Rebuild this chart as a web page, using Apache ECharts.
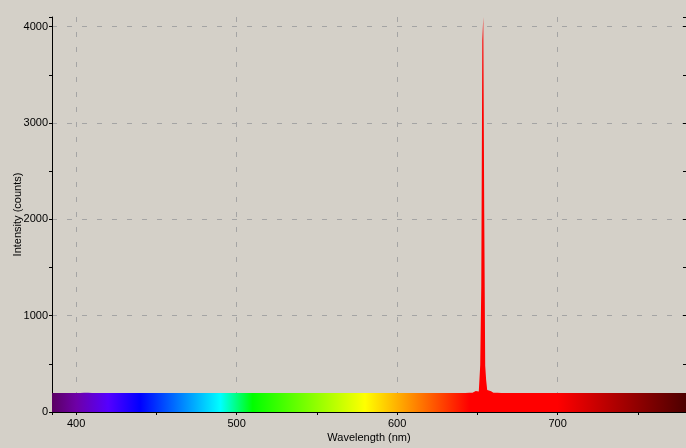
<!DOCTYPE html>
<html>
<head>
<meta charset="utf-8">
<script src="https://cdn.jsdelivr.net/npm/echarts@6/dist/echarts.min.js"></script>
<style>
  html, body { margin: 0; padding: 0; background: #d4d0c8; }
  #main { width: 686px; height: 448px; }
</style>
</head>
<body>
<div id="main"></div>
<script>
// wavelength (nm) of each sample
var wavelengths = [
  385, 390, 395, 400, 405, 410, 415, 420, 425, 430, 435, 440, 445, 450, 455, 460,
  465, 470, 475, 480, 485, 490, 495, 500, 505, 510, 515, 520, 525, 530, 535, 540,
  545, 550, 555, 560, 565, 570, 575, 580, 585, 590, 595, 600, 605, 610, 615, 620,
  625, 630, 635, 640, 645,
  649.0, 650.9, 651.5, 652.1, 652.8, 653.4, 654.0, 654.6, 655.2, 655.8, 656.5, 657.1,
  660, 665, 670, 675, 680, 685, 690, 695, 700, 705, 710, 715, 720, 725, 730, 735,
  740, 745, 750, 755, 760, 765, 770, 775, 780
];
// intensity (counts)
var counts = [
  197, 198, 196, 197, 199, 197, 196, 198, 197, 196, 198, 197, 197, 196, 198, 197,
  196, 197, 198, 197, 196, 197, 198, 196, 197, 198, 197, 196, 197, 198, 197, 196,
  197, 198, 197, 196, 197, 198, 196, 197, 198, 197, 196, 197, 198, 197, 196, 198,
  197, 196, 198, 197, 199,
  218, 212, 228, 487, 1306, 3855, 4100, 2062, 480, 330, 228, 215,
  201, 198, 197, 196, 198, 197, 196, 197, 198, 197, 196, 198, 197, 196, 197, 198,
  197, 196, 197, 198, 196, 197, 198, 197, 197
];
var xTicks = [400, 500, 600, 700];
var yTicks = [0, 1000, 2000, 3000, 4000];

var xMin = 385, xMax = 780, yMax = 4100;

// spectrum colours along the wavelength axis
var spectrumStops = [
  [385, '#5a0063'], [400, '#6e00a6'], [420, '#5500ff'], [440, '#0000ff'],
  [490, '#00ffff'], [510, '#00ff00'], [580, '#ffff00'], [645, '#ff0000'],
  [700, '#ff0000'], [780, '#4d0000']
];

var seriesData = wavelengths.map(function (w, i) { return [w, counts[i]]; });
var gradient = new echarts.graphic.LinearGradient(0, 0, 1, 0, spectrumStops.map(function (s) {
  return { offset: (s[0] - xMin) / (xMax - xMin), color: s[1] };
}));

var chart = echarts.init(document.getElementById('main'), null, { renderer: 'canvas' });
var font = { fontFamily: 'Liberation Sans', fontSize: 11, color: '#000' };

var option = {
  backgroundColor: '#d4d0c8',
  animation: false,
  textStyle: font,
  grid: {
    left: 52,
    right: 0,
    top: 17,
    bottom: 36,
    containLabel: false,
    outerBoundsMode: 'none'
  },
  xAxis: [{
    type: 'value',
    min: xMin,
    max: xMax,
    splitNumber: 8,
    name: 'Wavelength (nm)',
    nameLocation: 'middle',
    nameGap: 20,
    nameMoveOverlap: false,
    nameTextStyle: font,
    axisLine: { show: true, lineStyle: { color: '#000', width: 1 } },
    axisTick: { show: true, inside: false, length: 3, lineStyle: { color: '#000' } },
    axisLabel: {
      margin: 6,
      fontFamily: 'Liberation Sans', fontSize: 11, color: '#000',
      formatter: function (v) { return xTicks.indexOf(v) >= 0 ? String(v) : ''; }
    },
    splitLine: { show: false }
  }, {
    type: 'value',
    min: xMin,
    max: xMax,
    splitNumber: 4,
    axisLine: { show: false },
    axisTick: { show: false },
    axisLabel: { show: false },
    splitLine: {
      show: true,
      showMinLine: false,
      showMaxLine: false,
      lineStyle: { color: '#a4a4a4', type: [5, 10], width: 1 }
    }
  }],
  yAxis: [{
    type: 'value',
    min: 0,
    max: yMax,
    interval: 500,
    name: 'Intensity (counts)',
    nameLocation: 'middle',
    nameRotate: 90,
    nameGap: 29,
    nameMoveOverlap: false,
    nameTextStyle: font,
    axisLine: { show: true, lineStyle: { color: '#000', width: 1 } },
    axisTick: { show: true, inside: false, length: 3, lineStyle: { color: '#000' } },
    axisLabel: {
      margin: 4,
      fontFamily: 'Liberation Sans', fontSize: 11, color: '#000',
      formatter: function (v) { return yTicks.indexOf(v) >= 0 ? String(v) : ''; }
    },
    splitLine: { show: false }
  }, {
    type: 'value',
    min: 0,
    max: yMax,
    interval: 500,
    axisLine: { show: false },
    axisTick: { show: true, inside: true, length: 3, lineStyle: { color: '#000' } },
    axisLabel: { show: false },
    splitLine: { show: false }
  }, {
    type: 'value',
    min: 0,
    max: yMax,
    interval: 1000,
    axisLine: { show: false },
    axisTick: { show: false },
    axisLabel: { show: false },
    splitLine: {
      show: true,
      showMinLine: false,
      showMaxLine: false,
      lineStyle: { color: '#a4a4a4', type: [5, 10], width: 1 }
    }
  }],
  series: [{
    type: 'line',
    xAxisIndex: 0,
    yAxisIndex: 0,
    step: 'middle',
    showSymbol: false,
    symbol: 'none',
    data: seriesData,
    lineStyle: { width: 0, opacity: 0 },
    areaStyle: { color: gradient, opacity: 1 },
    z: 3
  }]
};

chart.setOption(option);
</script>
</body>
</html>
